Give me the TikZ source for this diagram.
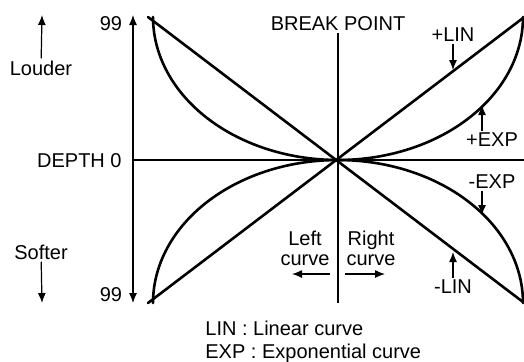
\documentclass[tikz,border=0pt]{standalone}
\usepackage{fontspec}
\setmainfont{Liberation Sans}
\usetikzlibrary{arrows.meta}
\tikzset{
  >={Latex[length=5pt,width=4pt]},
  lbl/.style={inner sep=1pt,font=\fontsize{10}{10}\selectfont},
  axis/.style={line width=0.6pt},
  curve/.style={line width=1.3pt,line join=round,line cap=round},
  pointer/.style={->,line width=0.6pt}
}

\begin{document}
\begin{tikzpicture}[x=0.5pt,y=-0.5pt]
  \useasboundingbox (0,0) rectangle (524,361);

  % Axes
  \coordinate (top) at (133,15);
  \coordinate (bot) at (133,303);
  \coordinate (zero) at (133,160);
  \coordinate (far) at (524,160);
  \coordinate (bpBot) at (338,303);
  \draw[axis,<->] (bot) -- (top);
  \draw[axis] (zero) -- (far);

  % Axis labels
  \node[lbl] (nTop) at (111,24) {99};
  \node[lbl] (nBot) at (111,295) {99};
  \node[lbl,anchor=east] (depth) at (124,161) {DEPTH 0};
  \node[lbl] (louder) at (41,68) {Louder};
  \node[lbl] (softer) at (41,252) {Softer};
  \coordinate (louderTip) at (42,15);
  \coordinate (softerTip) at (42,303);
  \draw[pointer] (louder) -- (louderTip);
  \draw[pointer] (softer) -- (softerTip);

  % Break point
  \node[lbl] (bp) at (338,24) {BREAK POINT};
  \draw[axis] (bp) -- (bpBot);

  % Linear curves
  \coordinate (tl) at (148,17);
  \coordinate (tr) at (523,18);
  \coordinate (bl) at (148,303);
  \coordinate (br) at (523,302);
  \draw[curve] (tl) -- (br);
  \draw[curve] (bl) -- (tr);

  % Exponential curves
  \foreach \sx/\sy in {1/1,1/-1,-1/1,-1/-1}
    \draw[curve] plot[domain=0:90,samples=60,smooth,variable=\t]
      ({338+\sx*185*sin(\t)},{160-\sy*143*(1-cos(\t))});

  % Curve labels
  \node[lbl] (plin) at (453,35) {+LIN};
  \node[lbl] (pexp) at (492,140) {+EXP};
  \node[lbl] (mexp) at (492,182) {-EXP};
  \node[lbl] (mlin) at (453,287) {-LIN};
  \coordinate (plinTip) at (453,70);
  \coordinate (pexpTip) at (482,105);
  \coordinate (mexpTip) at (482,215);
  \coordinate (mlinTip) at (453,252);
  \draw[pointer] (plin) -- (plinTip);
  \draw[pointer] (pexp.north -| pexpTip) -- (pexpTip);
  \draw[pointer] (mexp.south -| mexpTip) -- (mexpTip);
  \draw[pointer] (mlin) -- (mlinTip);

  % Left / right
  \node[lbl,align=center] (lcurve) at (305,248) {Left\\curve};
  \node[lbl,align=center] (rcurve) at (371,248) {Right\\curve};
  \coordinate (lStart) at (330,274);
  \coordinate (lEnd) at (292,274);
  \coordinate (rStart) at (345,274);
  \coordinate (rEnd) at (385,274);
  \draw[pointer] (lStart) -- (lEnd);
  \draw[pointer] (rStart) -- (rEnd);

  % Legend
  \node[lbl,anchor=west] (legLin) at (203,328) {LIN : Linear curve};
  \node[lbl,anchor=west] (legExp) at (203,353) {EXP : Exponential curve};
\end{tikzpicture}
\end{document}
